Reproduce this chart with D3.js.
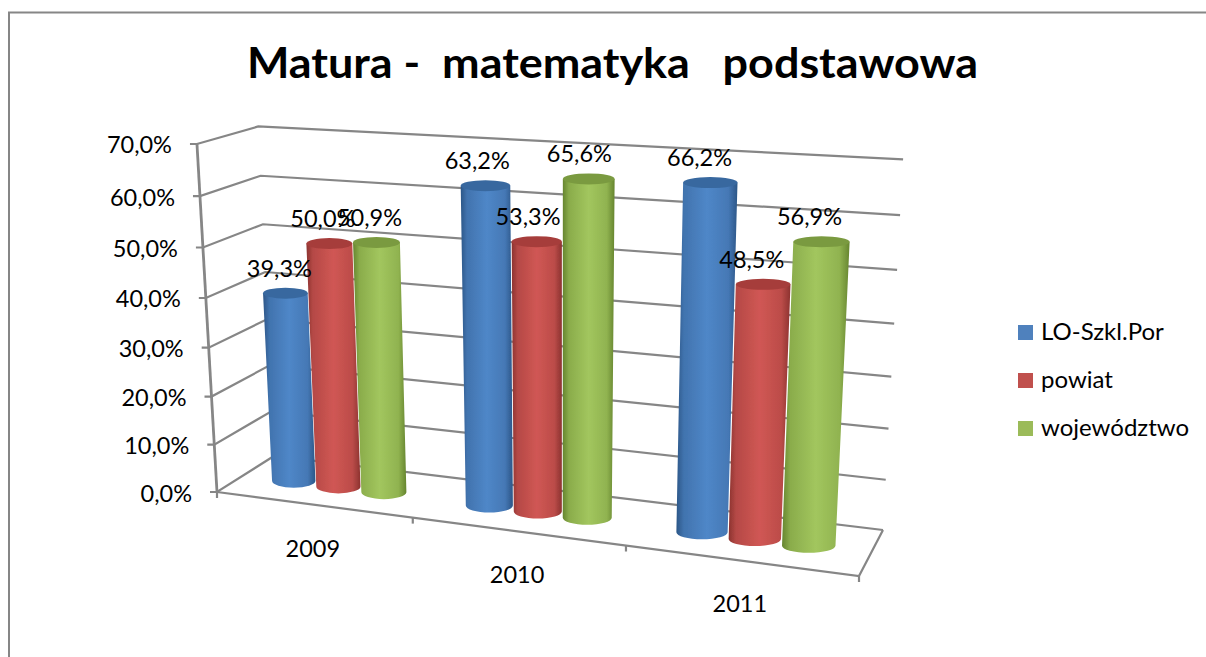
<!DOCTYPE html>
<html><head><meta charset="utf-8">
<script src="https://cdnjs.cloudflare.com/ajax/libs/d3/7.8.5/d3.min.js"></script>
<style>html,body{margin:0;padding:0;background:#fff;overflow:hidden}svg{display:block}text{font-family:Lato,"Open Sans",sans-serif;fill:#000;white-space:pre}</style>
</head><body><svg id="c" width="1206" height="657"></svg>
<script>
const titleText = "Matura -  matematyka   podstawowa";
const categories = ["2009", "2010", "2011"];
const seriesNames = ["LO-Szkl.Por", "powiat", "województwo"];
const loSzkl = [39.3, 63.2, 66.2];
const powiat = [50.0, 53.3, 48.5];
const wojewodztwo = [50.9, 65.6, 56.9];
const seriesValues = [loSzkl, powiat, wojewodztwo];
const seriesColors = ["#4F81BD", "#C0504D", "#9BBB59"];
const edgeColors = ["#2c5687", "#8c3330", "#66852f"];
const midColors = ["#4f87c8", "#d05754", "#a2c65e"];
const capColors = ["#37689f", "#a63d3a", "#7a9a3f"];
const yTicks = [0, 10, 20, 30, 40, 50, 60, 70];
const fmt = v => d3.format(".1f")(v).replace(".", ",") + "%";

const svg = d3.select("#c");
function homography(p0, p1, p2, p3) {
  const dx1 = p1[0]-p2[0], dx2 = p3[0]-p2[0], sx = p0[0]-p1[0]+p2[0]-p3[0];
  const dy1 = p1[1]-p2[1], dy2 = p3[1]-p2[1], sy = p0[1]-p1[1]+p2[1]-p3[1];
  const den = dx1*dy2-dx2*dy1;
  const g = (sx*dy2-dx2*sy)/den, h = (dx1*sy-sx*dy1)/den;
  const a = p1[0]-p0[0]+g*p1[0], b = p3[0]-p0[0]+h*p3[0], c = p0[0];
  const d = p1[1]-p0[1]+g*p1[1], e = p3[1]-p0[1]+h*p3[1], f = p0[1];
  return (u, w) => [a*u+b*w+c, d*u+e*w+f, g*u+h*w+1];
}
// plot box: floor quad (front-left, front-right, back-right, back-left) plus the vanishing point of the verticals
const floorH = homography([217,492],[859,576],[883,530],[274,456]);
const vanish = [561, 6468];
const heightK = -0.05503;
const vScale = d3.scaleLinear().domain([0,70]).range([0,heightK]);
function P(u, w, v) {
  const q = floorH(u,w), m = vScale(v), W = q[2]+m;
  return [(q[0]+m*vanish[0])/W, (q[1]+m*vanish[1])/W];
}
const uScale = d3.scaleBand().domain(categories).range([0,1]);
const seriesScale = d3.scaleLinear().domain([0,2]).range([-0.0785,0.0785]);
const radiusU = 0.0385, barDepth = 0.47, capRy = 5.5, baseRy = 7;

const defs = svg.append("defs");
defs.append("filter").attr("id","soft").attr("x","-5%").attr("y","-5%").attr("width","110%").attr("height","110%")
  .append("feGaussianBlur").attr("stdDeviation",0.6);
seriesColors.forEach((c,i)=>{
  const g = defs.append("linearGradient").attr("id","g"+i);
  [[0,edgeColors[i]],[0.12,d3.interpolateRgb(edgeColors[i],midColors[i])(0.6)],[0.5,midColors[i]],[0.85,d3.interpolateRgb(edgeColors[i],midColors[i])(0.7)],[1,edgeColors[i]]]
    .forEach(s=>g.append("stop").attr("offset",s[0]).attr("stop-color",s[1]));
});

// frame
svg.append("path").attr("d",d3.line()([[9,657],[9,12.5],[1206,12.5]])).attr("fill","none").attr("stroke","#868686").attr("stroke-width",2);

// title
svg.append("text").attr("x",247).attr("y",78).attr("font-size",42).attr("font-weight",700)
  .attr("textLength",731).attr("lengthAdjust","spacingAndGlyphs").text(titleText);

// grid
const grid = svg.append("g").attr("filter","url(#soft)").attr("fill","none").attr("stroke","#868686").attr("stroke-width",2.2);
const line = d3.line();
yTicks.forEach(v=>{
  const a=P(0,0,v), b=P(0,1,v), c=P(1,1,v);
  grid.append("path").attr("d",line([[a[0]-7,a[1]],a,b,c]));
});
grid.append("path").attr("d",line([P(0,0,0),P(0,0,70)])).attr("stroke-width",2.8);
grid.append("path").attr("d",line([P(1,1,0),P(1,0,0),P(0,0,0)]));
[0,1/3,2/3,1].forEach(u=>{ const a=P(u,0,0); grid.append("path").attr("d",line([a,[a[0],a[1]+6]])); });

// y tick labels
svg.append("g").attr("font-size",23.5).selectAll("text").data(yTicks).join("text")
  .attr("text-anchor","end")
  .attr("x",d=>P(0,0,d)[0]-25).attr("y",d=>P(0,0,d)[1]+9.5).text(fmt);

// category labels
svg.append("g").attr("font-size",23.5).selectAll("text").data(categories).join("text")
  .attr("text-anchor","middle")
  .attr("x",d=>P(uScale(d)+uScale.bandwidth()/2,0,0)[0])
  .attr("y",d=>P(uScale(d)+uScale.bandwidth()/2,0,0)[1]+52).text(d=>d);

// cylinders
const bars = svg.append("g").attr("filter","url(#soft)");
const labelData = [];
const labelDx = d3.scaleLinear().domain([288,820]).range([-6,-12]);
categories.forEach((cat,ci)=>{
  const uc = uScale(cat)+uScale.bandwidth()/2;
  seriesValues.forEach((vals,si)=>{
    const u = uc+seriesScale(si), v = vals[ci];
    const bl=P(u-radiusU,barDepth,0), br=P(u+radiusU,barDepth,0), tl=P(u-radiusU,barDepth,v), tr=P(u+radiusU,barDepth,v);
    const bc=P(u,barDepth,0), tc=P(u,barDepth,v);
    const rb=(br[0]-bl[0])/2, rt=(tr[0]-tl[0])/2;
    bars.append("path").attr("fill",`url(#g${si})`)
      .attr("d",`M${bc[0]-rb},${bc[1]}A${rb} ${baseRy} 0 0 0 ${bc[0]+rb},${bc[1]}L${tc[0]+rt},${tc[1]}L${tc[0]-rt},${tc[1]}Z`);
    bars.append("ellipse").attr("fill",capColors[si])
      .attr("cx",tc[0]).attr("cy",tc[1]).attr("rx",rt).attr("ry",capRy);
    labelData.push({x:tc[0]+labelDx(tc[0]), y:tc[1]-capRy-11, t:fmt(v)});
  });
});

// data labels
svg.append("g").attr("font-size",23.5).selectAll("text").data(labelData).join("text")
  .attr("text-anchor","middle").attr("x",d=>d.x).attr("y",d=>d.y).text(d=>d.t);

// legend
const legY = d3.scalePoint().domain(seriesNames).range([340,436]);
const leg = svg.append("g");
seriesNames.forEach((n,i)=>{
  leg.append("rect").attr("x",1018).attr("y",legY(n)-15).attr("width",15).attr("height",15).attr("fill",seriesColors[i]);
  leg.append("text").attr("x",1041).attr("y",legY(n)).attr("font-size",24).text(n);
});
</script></body></html>
